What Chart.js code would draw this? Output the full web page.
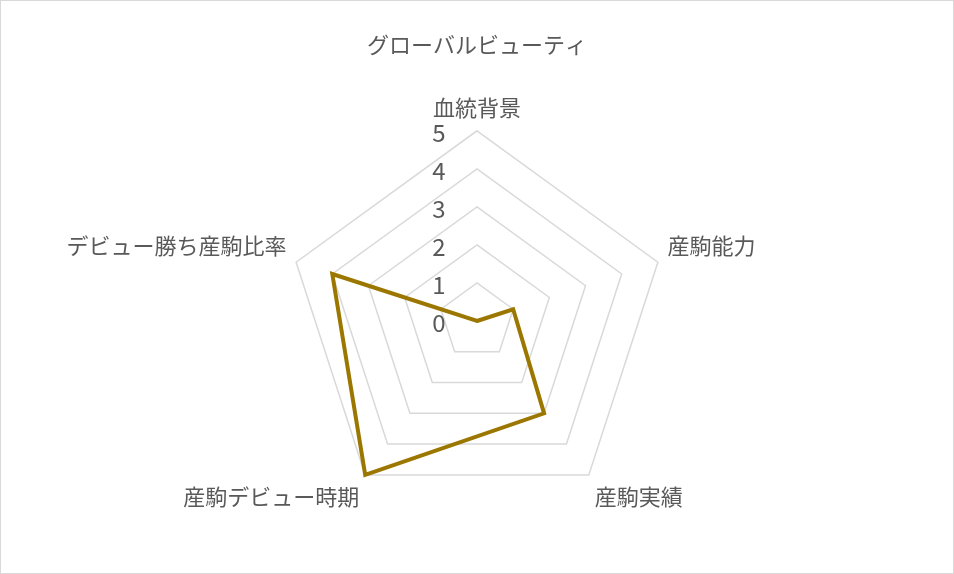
<!DOCTYPE html>
<html>
<head>
<meta charset="utf-8">
<script src="https://cdn.jsdelivr.net/npm/chart.js@4/dist/chart.umd.min.js"></script>
<style>
  html, body { margin: 0; padding: 0; background: #fff; }
  #wrap { width: 954px; height: 574px; box-sizing: border-box; border: 1px solid #d9d9d9; position: relative; }
  canvas { display: block; }
</style>
</head>
<body>
<div id="wrap"><canvas id="radar" width="952" height="572"></canvas></div>
<script>
// chart data
const chartTitle = 'グローバルビューティ';
const axisLabels = ['血統背景', '産駒能力', '産駒実績', '産駒デビュー時期', 'デビュー勝ち産駒比率'];
const scores = [0, 1, 3, 5, 4];
const tickValues = [0, 1, 2, 3, 4, 5];

const FONT = '"Noto Sans CJK JP", "Noto Sans", sans-serif';
const TEXT_COLOR = '#595959';

// Excel draws the scale numbers left of the vertical axis, so do that by hand
const tickLabelPlugin = {
  id: 'tickLabels',
  afterDatasetsDraw(chart) {
    const scale = chart.scales.r;
    const ctx = chart.ctx;
    ctx.save();
    ctx.font = '24px ' + FONT;
    ctx.fillStyle = TEXT_COLOR;
    ctx.textAlign = 'center';
    ctx.textBaseline = 'middle';
    tickValues.forEach(v => {
      const d = scale.getDistanceFromCenterForValue(v);
      ctx.fillText(String(v), scale.xCenter - 38, scale.yCenter - d + 2);
    });
    ctx.restore();
  }
};

const ctx = document.getElementById('radar').getContext('2d');
new Chart(ctx, {
  type: 'radar',
  data: {
    labels: axisLabels,
    datasets: [{
      label: chartTitle,
      data: scores,
      borderColor: '#9C7700',
      borderWidth: 4,
      borderJoinStyle: 'miter',
      backgroundColor: 'transparent',
      fill: false,
      pointRadius: 0,
      pointHoverRadius: 0,
      tension: 0
    }]
  },
  options: {
    responsive: false,
    animation: false,
    layout: { padding: { top: 0, bottom: 42, left: 0, right: 0 } },
    plugins: {
      legend: { display: false },
      tooltip: { enabled: false },
      title: {
        display: true,
        text: chartTitle,
        color: TEXT_COLOR,
        font: { family: FONT, size: 22, weight: 'normal' },
        padding: { top: 30, bottom: 19 }
      }
    },
    scales: {
      r: {
        min: 0,
        max: 5,
        ticks: { stepSize: 1, display: false },
        grid: { color: '#d9d9d9', lineWidth: 1.5 },
        angleLines: { display: false },
        pointLabels: {
          color: TEXT_COLOR,
          font: { family: FONT, size: 22 },
          padding: 10
        }
      }
    }
  },
  plugins: [tickLabelPlugin]
});
</script>
</body>
</html>
